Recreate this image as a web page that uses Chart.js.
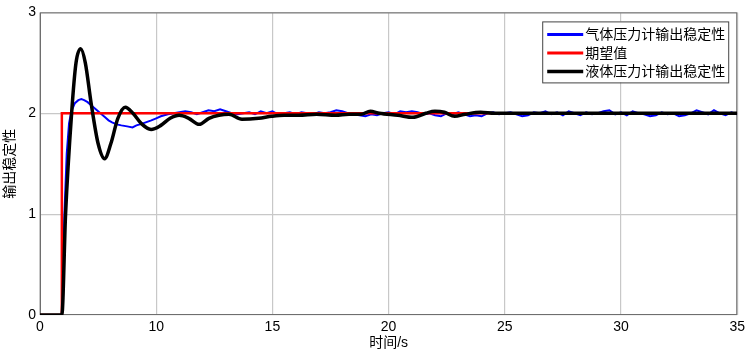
<!DOCTYPE html>
<html>
<head>
<meta charset="utf-8">
<script src="https://cdn.jsdelivr.net/npm/chart.js@4"></script>
<style>
  body { margin: 0; background: #fff; }
  canvas { display: block; }
</style>
</head>
<body>
<canvas id="chart" width="749" height="354"></canvas>
<script>
// tick labels (axis runs 5..35 but the first tick reads "0")
const xTickVals = [5, 10, 15, 20, 25, 30, 35];
const xTickLabels = ['0', '10', '15', '20', '25', '30', '35'];

// 期望值 (set point)
const redT = [5, 5.94, 5.94, 35];
const redV = [0, 0, 2, 2];

// 气体压力计输出稳定性
const blueT = [5, 5.94, 6.05, 6.15, 6.25, 6.35, 6.5, 6.65, 6.78, 6.9, 7.05, 7.2, 7.35, 7.5, 7.65, 7.8, 7.95, 8.1,
    8.3, 8.5, 8.75, 8.98, 9.15, 9.3, 9.55, 9.79, 10.0, 10.2, 10.5, 10.75, 11.0,
    11.25, 11.5, 11.75, 12.0, 12.25, 12.5, 12.75, 13.0, 13.25, 13.5, 13.75, 14.0, 14.25, 14.5, 14.75, 15.0,
    15.25, 15.5, 15.75, 16.0, 16.25, 16.5, 16.75, 17.0, 17.25, 17.5, 17.75, 18.0, 18.25, 18.5, 18.75, 19.0,
    19.25, 19.5, 19.75, 20.0, 20.25, 20.5, 20.75, 21.0, 21.25, 21.5, 21.75, 22.0, 22.25, 22.5, 22.75, 23.0,
    23.25, 23.5, 23.75, 24.0, 24.25, 24.5, 24.75, 25.0, 25.25, 25.5, 25.75, 26.0, 26.25, 26.5, 26.75, 27.0,
    27.25, 27.5, 27.75, 28.0, 28.25, 28.5, 28.75, 29.0, 29.25, 29.5, 29.75, 30.0, 30.25, 30.5, 30.75, 31.0,
    31.25, 31.5, 31.75, 32.0, 32.25, 32.5, 32.75, 33.0, 33.25, 33.5, 33.75, 34.0, 34.25, 34.5, 34.75, 35.0];
const blueV = [0, 0, 1.0, 1.6, 1.9, 2.02, 2.1, 2.13, 2.14, 2.13, 2.11, 2.08, 2.05, 2.02, 1.99, 1.96, 1.93, 1.91,
    1.89, 1.88, 1.87, 1.86, 1.88, 1.89, 1.91, 1.93, 1.95, 1.97, 1.99, 2.0, 2.01,
    2.02, 2.01, 1.99, 2.01, 2.03, 2.02, 2.04, 2.02, 2.00, 1.99, 2.00, 2.01, 1.99, 2.02, 2.00, 2.02,
    1.99, 2.00, 2.01, 1.99, 2.01, 2.00, 1.99, 2.01, 2.00, 2.01, 2.03, 2.02, 2.00, 1.99, 1.98, 1.97,
    1.99, 1.98, 2.00, 2.01, 1.99, 2.02, 2.01, 2.02, 2.01, 1.99, 2.00, 1.98, 1.97, 2.00, 1.99, 2.01,
    1.99, 1.97, 1.98, 1.97, 2.00, 2.01, 1.99, 2.00, 2.01, 1.99, 1.97, 1.98, 2.01, 2.00, 2.02, 1.99,
    2.01, 1.98, 2.02, 2.00, 1.98, 2.01, 1.99, 2.00, 2.02, 2.03, 1.99, 2.01, 1.98, 2.02, 2.00, 1.99,
    1.97, 1.98, 2.01, 1.99, 2.00, 1.97, 1.98, 2.00, 2.03, 2.01, 1.99, 2.03, 2.00, 1.98, 2.01, 1.99];

// 液体压力计输出稳定性
const blackT = [5, 5.94, 6.10, 6.36, 6.55, 6.75, 6.95, 7.2, 7.5, 7.78, 8.05, 8.35, 8.67, 9.0, 9.35, 9.78,
    10.2, 10.6, 10.99, 11.4, 11.85, 12.27, 12.7, 13.13, 13.69, 14.41, 14.97, 15.5, 16.13, 16.9, 17.71,
    18.3, 18.82, 19.21, 19.6, 20.4, 21.05, 21.6, 21.99, 22.4, 22.84, 23.3, 23.96, 24.56, 26, 28, 30, 32, 35];
const blackV = [0, 0, 1.0, 2.0, 2.5, 2.64, 2.5, 2.1, 1.7, 1.55, 1.7, 1.95, 2.06, 2.0, 1.9, 1.84,
    1.88, 1.95, 1.98, 1.95, 1.89, 1.95, 1.98, 1.99, 1.94, 1.95, 1.97, 1.98, 1.98, 1.99, 1.98,
    1.99, 1.99, 2.02, 2.0, 1.98, 1.96, 2.0, 2.02, 2.01, 1.97, 1.99, 2.01, 2.0, 2.0, 2.0, 2.0, 2.0, 2.0];

const toPoints = (t, v) => t.map((x, i) => ({ x: x, y: v[i] }));

const FONT = '"Liberation Sans", "Noto Sans CJK SC", Arial, sans-serif';

// frame round the plot area, like a boxed axes
const frame = {
    id: 'frame',
    beforeDatasetsDraw(chart) {
        const { ctx, chartArea: a } = chart;
        ctx.save();
        ctx.strokeStyle = '#6e6e6e';
        ctx.lineWidth = 1;
        ctx.strokeRect(a.left + 0.5, a.top + 0.5, a.right - a.left - 1, a.bottom - a.top - 1);
        ctx.restore();
    }
};

// boxed legend in the top right corner
const legendBox = {
    id: 'legendBox',
    afterDraw(chart) {
        const { ctx, chartArea: a } = chart;
        const w = 186, h = 61;
        const x = a.right - w - 9, y = a.top + 9;
        ctx.save();
        ctx.fillStyle = '#fff';
        ctx.fillRect(x, y, w, h);
        ctx.strokeStyle = '#444';
        ctx.lineWidth = 1;
        ctx.strokeRect(x + 0.5, y + 0.5, w, h);
        ctx.font = '14px ' + FONT;
        ctx.textBaseline = 'middle';
        ctx.fillStyle = '#000';
        chart.data.datasets.forEach((ds, i) => {
            const cy = y + 13 + i * 18.5;
            ctx.strokeStyle = ds.borderColor;
            ctx.lineWidth = Math.max(ds.borderWidth, 3);
            ctx.beginPath();
            ctx.moveTo(x + 5, cy);
            ctx.lineTo(x + 41, cy);
            ctx.stroke();
            ctx.fillText(ds.label, x + 43, cy + 1);
        });
        ctx.restore();
    }
};

new Chart(document.getElementById('chart'), {
    type: 'line',
    data: {
        datasets: [{
            label: '气体压力计输出稳定性',
            data: toPoints(blueT, blueV),
            borderColor: '#0000ff',
            borderWidth: 2,
            tension: 0,
            order: 2
        }, {
            label: '期望值',
            data: toPoints(redT, redV),
            borderColor: '#ff0000',
            borderWidth: 2.5,
            order: 1
        }, {
            label: '液体压力计输出稳定性',
            data: toPoints(blackT, blackV),
            borderColor: '#000000',
            borderWidth: 3.5,
            cubicInterpolationMode: 'monotone',
            order: 0
        }]
    },
    options: {
        responsive: false,
        animation: false,
        devicePixelRatio: 1,
        layout: { padding: { left: 0, right: 8, top: 10, bottom: 0 } },
        elements: { point: { radius: 0 } },
        plugins: {
            legend: { display: false },
            tooltip: { enabled: false }
        },
        scales: {
            x: {
                type: 'linear',
                min: 5,
                max: 35,
                afterBuildTicks: scale => { scale.ticks = xTickVals.map(v => ({ value: v })); },
                afterFit: scale => { scale.height = 39; },
                grid: { color: '#c8c8c8', lineWidth: 1.2, tickLength: 0 },
                border: { display: false },
                ticks: {
                    color: '#000',
                    font: { family: FONT, size: 14 },
                    padding: 4,
                    maxRotation: 0,
                    callback: v => xTickLabels[xTickVals.indexOf(v)]
                },
                title: {
                    display: true,
                    text: '时间/s',
                    color: '#000',
                    font: { family: FONT, size: 14 },
                    padding: { top: 0, bottom: 2 }
                }
            },
            y: {
                min: 0,
                max: 3,
                afterFit: scale => { scale.width = 40; },
                grid: { color: '#c8c8c8', lineWidth: 1.2, tickLength: 0 },
                border: { display: false },
                ticks: {
                    stepSize: 1,
                    color: '#000',
                    font: { family: FONT, size: 14 },
                    padding: 4
                },
                title: {
                    display: true,
                    text: '输出稳定性',
                    color: '#000',
                    font: { family: FONT, size: 14 },
                    padding: { top: 2, bottom: 0 }
                }
            }
        }
    },
    plugins: [frame, legendBox]
});
</script>
</body>
</html>
